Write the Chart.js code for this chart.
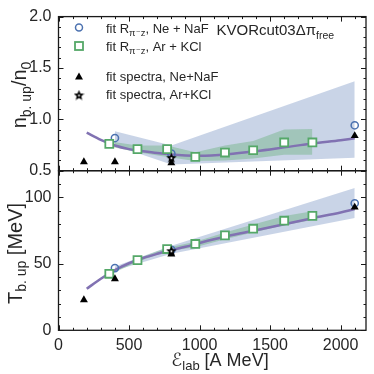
<!DOCTYPE html>
<html><head><meta charset="utf-8">
<script src="https://cdn.jsdelivr.net/npm/chart.js@4"></script>
<style>
html,body{margin:0;padding:0;background:#fff;width:374px;height:374px;overflow:hidden}
canvas{position:absolute;left:0;top:0}
</style></head><body>
<canvas id="top" width="374" height="374"></canvas>
<canvas id="bot" width="374" height="374"></canvas>
<script>
// ---------------- data ----------------
const xTicks = [0, 500, 1000, 1500, 2000];
const nTicks = [0.5, 1.0, 1.5, 2.0];
const tTicks = [0, 50, 100];

// fit R_{pi- z}, Ne+NaF (circles)
const neE = [400, 800, 2100];
const neN = [0.818, 0.666, 0.942];
const neT = [46.8, 60.5, 95.5];
// fit R_{pi- z}, Ar+KCl (squares)
const arE = [360, 560, 770, 970, 1180, 1380, 1600, 1800];
const arN = [0.761, 0.710, 0.710, 0.635, 0.677, 0.699, 0.775, 0.775];
const arT = [42.5, 52.8, 61.1, 64.9, 71.4, 76.4, 82.4, 86.0];
// fit spectra, Ne+NaF (triangles)
const spNeE = [180, 400, 800, 2100];
const spNeN = [0.585, 0.585, 0.575, 0.84];
const spNeT = [22.9, 38.7, 57.3, 92.5];
// fit spectra, Ar+KCl (star)
const spArE = [800];
const spArN = [0.627];
const spArT = [59.8];
// model curve
const fitE = [200, 300, 400, 500, 600, 700, 800, 900, 1000, 1200, 1400, 1600, 1800, 2000, 2100];
const fitN = [0.87, 0.80, 0.745, 0.71, 0.69, 0.672, 0.658, 0.649, 0.645, 0.66, 0.69, 0.727, 0.765, 0.797, 0.815];
const fitT = [31.2, 38.8, 45.3, 50.4, 54.4, 57.5, 60.2, 62.8, 65.7, 70.9, 75.2, 79.7, 84.3, 88.6, 91.2];
// uncertainty bands
const neBandE = [400, 800, 2100];
const neBandNUp = [0.885, 0.745, 1.37];
const neBandNLo = [0.745, 0.56, 0.627];
const neBandTUp = [48, 63.5, 107];
const neBandTLo = [45, 57.5, 84.5];
const arBandE = [360, 560, 770, 970, 1180, 1380, 1600, 1800];
const arBandNUp = [0.786, 0.745, 0.745, 0.68, 0.745, 0.79, 0.90, 0.905];
const arBandNLo = [0.735, 0.68, 0.633, 0.595, 0.60, 0.618, 0.655, 0.655];
const arBandTUp = [43.5, 54, 62, 66.5, 73.5, 79.5, 86, 89.5];
const arBandTLo = [41.5, 51.5, 59.5, 62.5, 68.5, 73.5, 79, 83];

// ---------------- style ----------------
const FF = "'Liberation Sans', 'DejaVu Sans', sans-serif";
const BLUE = '#4c72b0', GREEN = '#55a868', PURPLE = '#8172b2';
const BAND_BLUE = 'rgba(76,114,176,0.30)', BAND_GREEN = 'rgba(85,168,104,0.35)';
const TXT = '#262626';

const pts = (xs, ys) => xs.map((x, i) => ({x, y: ys[i]}));

function starImg(size) {
  const c = document.createElement('canvas');
  c.width = c.height = size;
  const g = c.getContext('2d');
  const R = size / 2, r = R * 0.45, cx = R, cy = R * 1.08;
  g.fillStyle = '#000';
  g.beginPath();
  for (let i = 0; i < 10; i++) {
    const a = -Math.PI / 2 + i * Math.PI / 5, rr = i % 2 ? r : R;
    g.lineTo(cx + rr * Math.cos(a), cy + rr * Math.sin(a));
  }
  g.closePath(); g.fill();
  g.fillStyle = '#fff';
  g.beginPath(); g.arc(cx, cy, 1, 0, Math.PI * 2); g.fill();
  return c;
}
const STAR = starImg(11);

function rich(ctx, parts, x, y, align) {
  let w = 0;
  for (const p of parts) { ctx.font = p[1] + 'px ' + FF; w += ctx.measureText(p[0]).width; }
  let cx = align === 'center' ? x - w / 2 : align === 'right' ? x - w : x;
  ctx.textAlign = 'left'; ctx.textBaseline = 'alphabetic';
  for (const p of parts) {
    ctx.font = p[1] + 'px ' + FF;
    ctx.fillText(p[0], cx, y + (p[2] || 0));
    cx += ctx.measureText(p[0]).width;
  }
}

const boxTicks = {
  id: 'boxTicks',
  afterDraw(chart, args, opts) {
    const {ctx, chartArea: a, scales: {x, y}} = chart;
    ctx.save();
    ctx.strokeStyle = '#1a1a1a';
    ctx.lineWidth = 1;
    const seg = (x1, y1, x2, y2) => { ctx.beginPath(); ctx.moveTo(x1, y1); ctx.lineTo(x2, y2); ctx.stroke(); };
    const isMajor = (v, m) => Math.abs(v / m - Math.round(v / m)) < 1e-6;
    for (let i = 0; ; i++) {
      const v = x.min + i * opts.xMinor; if (v > x.max + 1e-9) break;
      const px = Math.round(x.getPixelForValue(v)) + 0.5;
      const L = isMajor(v, opts.xMajor) ? 5 : 2.5;
      seg(px, a.bottom, px, a.bottom - L); seg(px, a.top, px, a.top + L);
    }
    for (let i = 0; ; i++) {
      const v = y.min + i * opts.yMinor; if (v > y.max + 1e-9) break;
      const py = Math.round(y.getPixelForValue(v)) + 0.5;
      const L = isMajor(v - y.min, opts.yMajor) ? 5 : 2.5;
      seg(a.left, py, a.left + L, py); seg(a.right, py, a.right - L, py);
    }
    ctx.lineWidth = 1.3;
    ctx.strokeRect(a.left, a.top, a.right - a.left, a.bottom - a.top);
    ctx.restore();
  }
};

const annotTop = {
  id: 'annotTop',
  afterDraw(chart) {
    const ctx = chart.ctx;
    ctx.save();
    ctx.fillStyle = TXT;
    ctx.translate(26, 95); ctx.rotate(-Math.PI / 2);
    rich(ctx, [['n', 20], ['b. up', 14, 4.5], ['/n', 20], ['0', 14, 4.5]], 0, 0, 'center');
    ctx.setTransform(1, 0, 0, 1, 0, 0);
    const mx = 79, tx = 106;
    ctx.strokeStyle = BLUE; ctx.lineWidth = 1.5;
    ctx.beginPath(); ctx.arc(mx, 27.5, 3.5, 0, Math.PI * 2); ctx.stroke();
    ctx.strokeStyle = GREEN; ctx.lineWidth = 1.8; ctx.fillStyle = '#fff';
    ctx.fillRect(mx - 4, 42, 8, 8); ctx.strokeRect(mx - 4, 42, 8, 8);
    ctx.fillStyle = '#000';
    ctx.beginPath(); ctx.moveTo(mx, 72.5); ctx.lineTo(mx + 4, 79.5); ctx.lineTo(mx - 4, 79.5); ctx.closePath(); ctx.fill();
    ctx.drawImage(STAR, mx - 5.5, 89.5);
    ctx.fillStyle = TXT;
    rich(ctx, [['fit R', 13], ['π⁻z', 9.5, 3], [', Ne + NaF', 13]], tx, 33, 'left');
    rich(ctx, [['fit R', 13], ['π⁻z', 9.5, 3], [', Ar + KCl', 13]], tx, 51, 'left');
    rich(ctx, [['fit spectra, Ne+NaF', 13]], tx, 81, 'left');
    rich(ctx, [['fit spectra, Ar+KCl', 13]], tx, 99, 'left');
    rich(ctx, [['KVORcut03Δπ', 15], ['free', 10.5, 3.5]], 216.5, 35, 'left');
    ctx.restore();
  }
};

const annotBot = {
  id: 'annotBot',
  afterDraw(chart) {
    const ctx = chart.ctx;
    ctx.save();
    ctx.fillStyle = TXT;
    ctx.translate(21.5, 253.5); ctx.rotate(-Math.PI / 2);
    rich(ctx, [['T', 20], ['b. up', 14, 4.5], [' [MeV]', 20]], 0, 0, 'center');
    ctx.setTransform(1, 0, 0, 1, 0, 0);
    rich(ctx, [['ℰ', 18], ['lab', 13, 4], [' [A MeV]', 18]], 220, 366, 'center');
    ctx.restore();
  }
};

function makeChart(id, cfg) {
  const datasets = [
    {data: pts(neBandE, cfg.neUp), fill: '+1', backgroundColor: BAND_BLUE, borderWidth: 0, pointRadius: 0, order: 10, tension: 0},
    {data: pts(neBandE, cfg.neLo), fill: false, borderWidth: 0, pointRadius: 0, order: 10, tension: 0},
    {data: pts(arBandE, cfg.arUp), fill: '+1', backgroundColor: BAND_GREEN, borderWidth: 0, pointRadius: 0, order: 9, tension: 0},
    {data: pts(arBandE, cfg.arLo), fill: false, borderWidth: 0, pointRadius: 0, order: 9, tension: 0},
    {data: pts(fitE, cfg.fit), borderColor: PURPLE, borderWidth: 2.5, pointRadius: 0, fill: false, cubicInterpolationMode: 'monotone', order: 5},
    {data: pts(neE, cfg.ne), showLine: false, pointStyle: 'circle', pointRadius: 3.6, pointBorderWidth: 1.5, pointBorderColor: BLUE, pointBackgroundColor: 'rgba(255,255,255,0)', order: 4},
    {data: pts(arE, cfg.ar), showLine: false, pointStyle: 'rect', pointRadius: 5.6, pointBorderWidth: 1.8, pointBorderColor: GREEN, pointBackgroundColor: '#fff', order: 3},
    {data: pts(spNeE, cfg.spNe), showLine: false, pointStyle: 'triangle', pointRadius: 4.6, pointBorderWidth: 0, pointBorderColor: '#000', pointBackgroundColor: '#000', order: 2},
    {data: pts(spArE, cfg.spAr), showLine: false, pointStyle: STAR, pointRadius: 5.5, order: 1}
  ];
  return new Chart(document.getElementById(id), {
    type: 'line',
    data: {datasets},
    options: {
      responsive: false, animation: false, devicePixelRatio: 1,
      layout: {padding: cfg.padding},
      plugins: {legend: {display: false}, tooltip: {enabled: false},
        boxTicks: cfg.ticks},
      elements: {line: {borderJoinStyle: 'round'}},
      scales: {
        x: {type: 'linear', min: 0, max: 2180, display: cfg.showX,
          grid: {display: false, drawTicks: false}, border: {display: false},
          ticks: {autoSkip: false, maxRotation: 0, minRotation: 0, padding: 6,
            color: TXT, font: {family: FF, size: 16},
            callback: v => String(v)},
          afterBuildTicks: s => { s.ticks = xTicks.map(v => ({value: v})); },
          afterFit: s => { s.height = cfg.xHeight; }},
        y: {type: 'linear', min: cfg.ymin, max: cfg.ymax,
          grid: {display: false, drawTicks: false}, border: {display: false},
          ticks: {autoSkip: false, padding: 7,
            color: TXT, font: {family: FF, size: 16},
            callback: cfg.yfmt},
          afterBuildTicks: s => { s.ticks = cfg.yTicks.map(v => ({value: v})); },
          afterFit: s => { s.width = 58.5; }}
      }
    },
    plugins: [boxTicks, cfg.annot]
  });
}

makeChart('top', {
  neUp: neBandNUp, neLo: neBandNLo, arUp: arBandNUp, arLo: arBandNLo,
  fit: fitN, ne: neN, ar: arN, spNe: spNeN, spAr: spArN,
  padding: {left: 0, right: 8, top: 13, bottom: 374 - 170.7},
  showX: false, xHeight: 0, ymin: 0.5, ymax: 2.0, yTicks: nTicks,
  yfmt: v => v.toFixed(1),
  ticks: {xMinor: 100, xMajor: 500, yMinor: 0.1, yMajor: 0.5},
  annot: annotTop
});
makeChart('bot', {
  neUp: neBandTUp, neLo: neBandTLo, arUp: arBandTUp, arLo: arBandTLo,
  fit: fitT, ne: neT, ar: arT, spNe: spNeT, spAr: spArT,
  padding: {left: 0, right: 8, top: 170.7, bottom: 0},
  showX: true, xHeight: 374 - 330.3, ymin: 0, ymax: 120, yTicks: tTicks,
  yfmt: v => String(v),
  ticks: {xMinor: 100, xMajor: 500, yMinor: 10, yMajor: 50},
  annot: annotBot
});
</script>
</body></html>
